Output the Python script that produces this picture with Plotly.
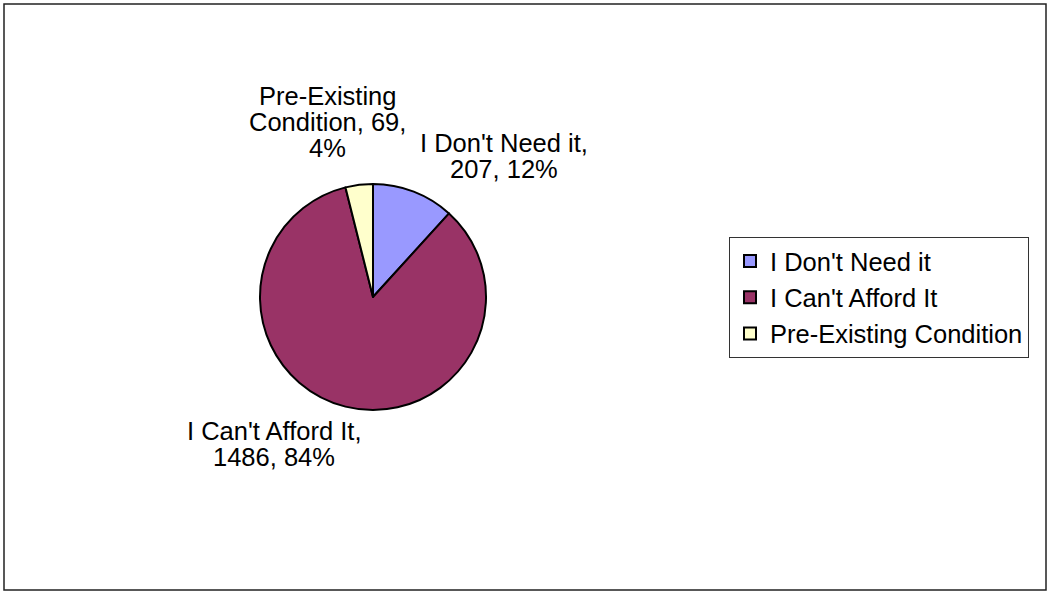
import plotly.graph_objects as go

# ---- data ----
categories = ["I Don't Need it", "I Can't Afford It", "Pre-Existing Condition"]
values = [207, 1486, 69]
colors = ["#9999FF", "#993366", "#FFFFCC"]

# ---- layout constants (pixels) ----
W, H = 1048, 592
pie_cx, pie_cy, pie_r = 373, 297, 113
FONT = "Liberation Sans, Arial, sans-serif"
FS = 25.5
LINE_GAP = 26
label_centres = [(504, 143), (274, 431), (327, 96)]

total = sum(values)
pcts = [round(v / total * 100) for v in values]

def label_lines(i):
    if i == 2:
        first, rest = categories[i].split(" ", 1)
        return [first, f"{rest}, {values[i]},", f"{pcts[i]}%"]
    return [f"{categories[i]},", f"{values[i]}, {pcts[i]}%"]

fig = go.Figure(
    go.Pie(
        labels=categories,
        values=values,
        sort=False,
        direction="clockwise",
        rotation=0,
        textinfo="none",
        marker=dict(colors=colors, line=dict(color="#000000", width=2)),
        domain=dict(
            x=[(pie_cx - pie_r) / W, (pie_cx + pie_r) / W],
            y=[(H - pie_cy - pie_r) / H, (H - pie_cy + pie_r) / H],
        ),
        showlegend=True,
    )
)

annotations = []
for i in range(len(categories)):
    cx, cy = label_centres[i]
    for k, line in enumerate(label_lines(i)):
        annotations.append(
            dict(
                text=line,
                x=cx / W,
                y=1 - (cy + k * LINE_GAP) / H,
                xref="paper",
                yref="paper",
                xanchor="center",
                yanchor="middle",
                showarrow=False,
                font=dict(family=FONT, size=FS, color="#000000"),
            )
        )

fig.update_layout(
    width=W,
    height=H,
    margin=dict(l=0, r=0, t=0, b=0),
    paper_bgcolor="#FFFFFF",
    plot_bgcolor="#FFFFFF",
    font=dict(family=FONT, size=FS, color="#000000"),
    annotations=annotations,
    legend=dict(
        x=729 / W,
        y=1 - 237 / H,
        xanchor="left",
        yanchor="top",
        bgcolor="#FFFFFF",
        bordercolor="#333333",
        borderwidth=1,
        font=dict(family=FONT, size=FS, color="#000000"),
        tracegroupgap=0,
    ),
    shapes=[
        dict(
            type="rect",
            xref="paper",
            yref="paper",
            x0=4 / W,
            x1=1046 / W,
            y0=1 - 590 / H,
            y1=1 - 4 / H,
            line=dict(color="#222222", width=1.5),
            fillcolor="rgba(0,0,0,0)",
            layer="below",
        )
    ],
)

fig.write_html(
    "out.html",
    config={"displayModeBar": False},
    post_script="document.body.style.margin='0';document.body.style.padding='0';",
)
